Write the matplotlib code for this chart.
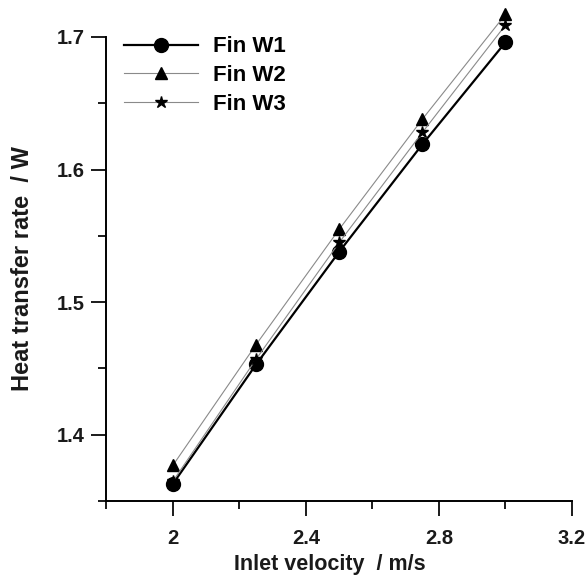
import numpy as np
import matplotlib
matplotlib.use("Agg")
import matplotlib.pyplot as plt
from matplotlib.ticker import MultipleLocator

plt.rcParams['font.family'] = ['Liberation Sans', 'DejaVu Sans']
plt.rcParams['font.weight'] = 'bold'

# inlet velocity (m/s) and heat transfer rate (W) per fin
velocity = [2.0, 2.25, 2.5, 2.75, 3.0]
fin_w1 = [1.363, 1.453, 1.538, 1.619, 1.696]
fin_w2 = [1.377, 1.468, 1.555, 1.638, 1.717]
fin_w3 = [1.365, 1.457, 1.545, 1.628, 1.709]

x_ticks = [2.0, 2.4, 2.8, 3.2]
x_tick_labels = ['2', '2.4', '2.8', '3.2']
y_ticks = [1.4, 1.5, 1.6, 1.7]

fig = plt.figure(figsize=(5.86, 5.75), dpi=100)
ax = fig.add_axes([0.1817, 0.1287, 0.7944, 0.807])

ax.plot(velocity, fin_w1, color='black', lw=1.6, marker='o', ms=10,
        label='Fin W1', clip_on=False, zorder=3)
ax.plot(velocity, fin_w2, color='#8a8a8a', lw=0.8, marker='^', ms=8,
        mfc='black', mec='black', label='Fin W2', clip_on=False, zorder=3)
ax.plot(velocity, fin_w3, color='#8a8a8a', lw=0.8, marker='*', ms=9,
        mfc='black', mec='black', label='Fin W3', clip_on=False, zorder=3)

ax.set_xlim(1.8, 3.2)
ax.set_ylim(1.35, 1.7)
ax.set_xticks(x_ticks)
ax.set_xticklabels(x_tick_labels)
ax.set_yticks(y_ticks)
ax.xaxis.set_minor_locator(MultipleLocator(0.2))
ax.yaxis.set_minor_locator(MultipleLocator(0.05))

for side in ['top', 'right']:
    ax.spines[side].set_visible(False)
for side in ['left', 'bottom']:
    ax.spines[side].set_linewidth(1.4)

ax.tick_params(which='major', direction='out', length=11, width=1.4,
               labelsize=14.5, colors='#1a1a1a')
ax.tick_params(which='minor', direction='out', length=6, width=1.4,
               colors='#1a1a1a')
ax.tick_params(axis='x', which='major', pad=9)
ax.tick_params(axis='y', which='major', pad=5)

ax.set_xlabel('Inlet velocity  / m/s', fontsize=15.5, fontweight='bold',
              color='#1a1a1a')
ax.set_ylabel('Heat transfer rate  / W', fontsize=17, fontweight='bold',
              color='#1a1a1a')
ax.xaxis.set_label_coords(0.48, -0.115)
ax.yaxis.set_label_coords(-0.155, 0.5)

leg = ax.legend(loc='upper left', bbox_to_anchor=(0.01, 1.03), frameon=False,
                fontsize=16, handlelength=3.3, handletextpad=0.7,
                labelspacing=0.35, borderaxespad=0.2)
for t in leg.get_texts():
    t.set_fontweight('bold')

fig.savefig('out.png', dpi=100)
